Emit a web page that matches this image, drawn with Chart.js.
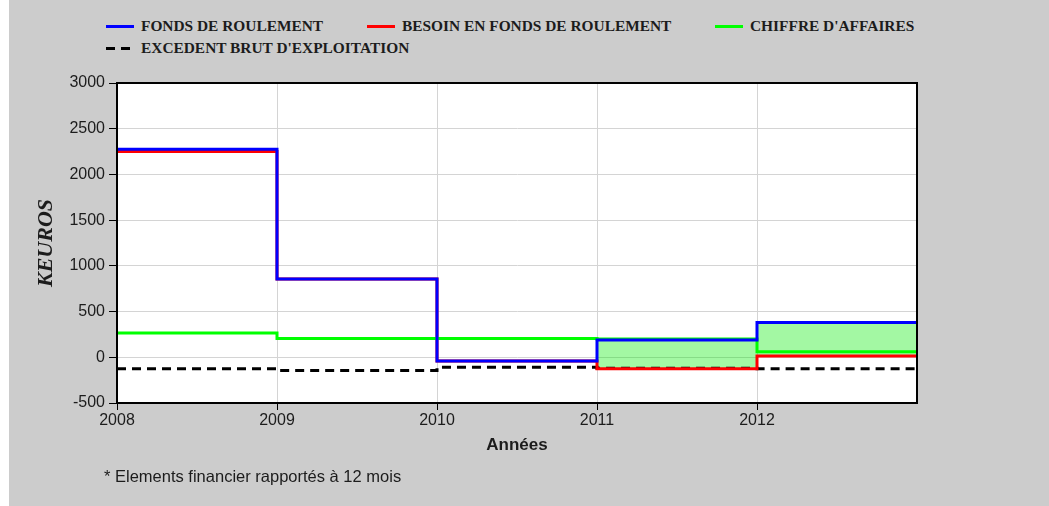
<!DOCTYPE html>
<html>
<head>
<meta charset="utf-8">
<script src="https://cdn.jsdelivr.net/npm/chart.js@4"></script>
<style>
  html, body { margin: 0; padding: 0; background: #ffffff; }
  #wrap { position: relative; width: 1049px; height: 506px; overflow: hidden; }
  #bg { position: absolute; left: 9px; top: 0; right: 0; bottom: 0; background: #cccccc; }
  #chartBox { position: absolute; left: 0; top: 0; width: 1049px; height: 506px; }
  .leg { position: absolute; font-family: "Liberation Serif", serif; font-weight: bold; font-size: 15.4px;
         color: #1c1c1c; white-space: nowrap; line-height: 18px; }
  .leg .swatch { position: absolute; top: 8px; width: 28px; height: 3px; }
  .leg .txt { position: absolute; left: 35px; top: 0; }
  #note { position: absolute; left: 104px; top: 467px; font-family: "Liberation Sans", Arial, sans-serif;
          font-size: 16.5px; color: #1c1c1c; white-space: nowrap; }
</style>
</head>
<body>
<div id="wrap">
  <div id="bg"></div>
  <div id="legend"></div>
  <div id="chartBox"><canvas id="myChart" width="1049" height="506"></canvas></div>
  <div id="note">* Elements financier rapportés à 12 mois</div>
</div>
<script>
// exercices (each value holds for a whole year, last one runs to endYear)
const years = [2008, 2009, 2010, 2011, 2012];
const endYear = 2013;

// KEUROS
const fondsRoulement  = [2275, 855, -40, 190, 380];
const besoinFR        = [2250, 855, -40, -125, 15];
const chiffreAffaires = [265, 205, 205, 200, 60];
const excedentBrut    = [-125, -145, -110, -120, -125];

const seriesLabels = ['FONDS DE ROULEMENT', 'BESOIN EN FONDS DE ROULEMENT', 'CHIFFRE D\'AFFAIRES', 'EXCEDENT BRUT D\'EXPLOITATION'];
const seriesColors = ['#0000ff', '#ff0000', '#00ff00', '#000000'];
const yTicks = [-500, 0, 500, 1000, 1500, 2000, 2500, 3000];

function steps(values) {
  const pts = years.map((yr, i) => ({ x: yr, y: values[i] }));
  pts.push({ x: endYear, y: values[values.length - 1] });
  return pts;
}

// legend laid out in fixed columns like the report template
const legendSlots = [
  { left: 106, top: 17 },
  { left: 367, top: 17 },
  { left: 715, top: 17 },
  { left: 106, top: 39 }
];
const legendEl = document.getElementById('legend');
seriesLabels.forEach((label, i) => {
  const item = document.createElement('div');
  item.className = 'leg';
  item.style.left = legendSlots[i].left + 'px';
  item.style.top = legendSlots[i].top + 'px';
  const sw = document.createElement('div');
  sw.className = 'swatch';
  if (i === 3) {
    sw.style.background = 'repeating-linear-gradient(90deg, #000 0 9px, transparent 9px 15px)';
  } else {
    sw.style.background = seriesColors[i];
  }
  const txt = document.createElement('span');
  txt.className = 'txt';
  txt.textContent = label;
  item.appendChild(sw);
  item.appendChild(txt);
  legendEl.appendChild(item);
});

// white plot background + black frame around the plot
const plotFrame = {
  id: 'plotFrame',
  beforeDraw(chart) {
    const { ctx, chartArea: a } = chart;
    ctx.save();
    ctx.fillStyle = '#ffffff';
    ctx.fillRect(a.left, a.top, a.right - a.left, a.bottom - a.top);
    ctx.restore();
  },
  afterDraw(chart) {
    const { ctx, chartArea: a } = chart;
    ctx.save();
    ctx.strokeStyle = '#000000';
    ctx.lineWidth = 2;
    ctx.strokeRect(a.left, a.top, a.right - a.left, a.bottom - a.top);
    ctx.restore();
  }
};

const ctx = document.getElementById('myChart');
const tickFont = { family: '"Liberation Sans", Arial, sans-serif', size: 16 };

new Chart(ctx, {
  type: 'line',
  data: {
    datasets: [
      {
        label: seriesLabels[0],
        data: steps(fondsRoulement),
        borderColor: seriesColors[0],
        fill: { target: 1, above: 'rgba(0, 235, 0, 0.36)', below: 'rgba(0, 0, 0, 0)' }
      },
      {
        label: seriesLabels[1],
        data: steps(besoinFR),
        borderColor: seriesColors[1],
        order: 2
      },
      {
        label: seriesLabels[2],
        data: steps(chiffreAffaires),
        borderColor: seriesColors[2],
        order: 1
      },
      {
        label: seriesLabels[3],
        data: steps(excedentBrut),
        borderColor: seriesColors[3],
        borderDash: [9, 6],
        order: 3
      }
    ]
  },
  options: {
    responsive: false,
    animation: false,
    datasets: {
      line: {
        stepped: true,
        borderWidth: 3,
        pointRadius: 0,
        borderJoinStyle: 'miter',
        fill: false
      }
    },
    layout: { padding: { top: 83, right: 132, bottom: 46, left: 0 } },
    plugins: {
      legend: { display: false },
      tooltip: { enabled: false },
      filler: { drawTime: 'beforeDatasetsDraw' }
    },
    scales: {
      x: {
        type: 'linear',
        min: years[0],
        max: endYear,
        afterBuildTicks(axis) {
          axis.ticks = years.map(v => ({ value: v }));
        },
        afterFit(axis) { axis.height = 57; },
        ticks: {
          color: '#1c1c1c',
          font: tickFont,
          padding: 1,
          maxRotation: 0,
          callback: v => String(v)
        },
        grid: { color: '#d4d4d4', lineWidth: 1, tickColor: '#000000', tickLength: 7 },
        border: { color: '#000000', width: 2 },
        title: {
          display: true,
          text: 'Années',
          color: '#1c1c1c',
          font: { family: '"Liberation Sans", Arial, sans-serif', size: 17, weight: 'bold' },
          padding: { top: 0, bottom: 4 }
        }
      },
      y: {
        min: -500,
        max: 3000,
        afterBuildTicks(axis) {
          axis.ticks = yTicks.map(v => ({ value: v }));
        },
        afterFit(axis) { axis.width = 117; },
        ticks: { color: '#1c1c1c', font: tickFont, padding: 4, callback: v => String(v) },
        grid: { color: '#d4d4d4', lineWidth: 1, tickColor: '#000000', tickLength: 8 },
        border: { color: '#000000', width: 2 },
        title: {
          display: true,
          text: 'KEUROS',
          color: '#1c1c1c',
          font: { family: '"Liberation Serif", serif', size: 22, style: 'italic', weight: 'bold' },
          padding: { top: 33, bottom: 0 }
        }
      }
    }
  },
  plugins: [plotFrame]
});
</script>
</body>
</html>
